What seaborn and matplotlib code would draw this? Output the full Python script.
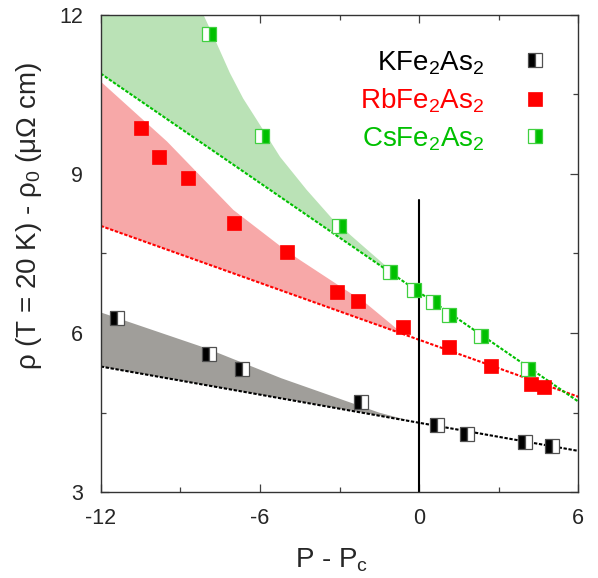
import numpy as np
import matplotlib
matplotlib.use('Agg')
import matplotlib.pyplot as plt
from matplotlib.lines import Line2D
import seaborn as sns

# ── Data ────────────────────────────────────────────────────────────────────
k_x = [-11.40, -7.91, -6.69, -2.20, 0.69, 1.80, 4.00, 5.00]
k_y = [6.29, 5.61, 5.33, 4.70, 4.27, 4.10, 3.95, 3.87]

rb_x = [-10.48, -9.80, -8.72, -6.99, -4.99, -3.10, -2.31, -0.60, 1.13, 2.70, 4.22, 4.71]
rb_y = [9.86, 9.32, 8.92, 8.08, 7.53, 6.78, 6.61, 6.12, 5.73, 5.38, 5.04, 4.99]

cs_x = [-7.91, -5.91, -3.01, -1.09, -0.19, 0.51, 1.12, 2.32, 4.12]
cs_y = [11.64, 9.71, 8.02, 7.15, 6.81, 6.59, 6.34, 5.94, 5.33]

# dotted linear fits (end points)
k_fit_x, k_fit_y = [-12, 6], [5.37, 3.78]
rb_fit_x, rb_fit_y = [-12, 6], [8.02, 4.80]
cs_fit_x, cs_fit_y = [-12, 6], [10.89, 4.71]

# shaded bands: upper edge, closed back along the fit line
k_band_x = [-12, -8.0, -5.2, -2.7, -1.5, -0.3, -12]
k_band_y = [6.39, 5.71, 5.15, 4.71, 4.50, 4.34, 5.37]
rb_band_x = [-12, -9.5, -7.0, -5.0, -4.5, -2.0, -0.6, -12]
rb_band_y = [10.74, 9.61, 8.32, 7.55, 7.38, 6.56, 5.98, 8.02]
cs_band_x = [-12, -8.13, -7.63, -7.13, -6.63, -6.12, -5.24, -4.24, -3.23, -2.23,
             -1.22, -0.9, -12]
cs_band_y = [12.0, 12.0, 11.46, 10.90, 10.42, 10.02, 9.32, 8.70, 8.13, 7.69,
             7.25, 7.08, 10.89]

labels = ['KFe$_2$As$_2$', 'RbFe$_2$As$_2$', 'CsFe$_2$As$_2$']

GREEN = '#00c000'
RED = '#ff0000'

sns.set_style('ticks')
plt.rcParams['font.family'] = ['Liberation Sans', 'DejaVu Sans']
plt.rcParams['mathtext.fontset'] = 'custom'
plt.rcParams['mathtext.rm'] = 'Liberation Sans'
plt.rcParams['mathtext.it'] = 'Liberation Sans'

fig = plt.figure(figsize=(5.98, 5.78), dpi=100)
ax = fig.add_axes([0.1684, 0.1483, 0.7987, 0.8263])

# bands
ax.fill(cs_band_x, cs_band_y, color='#bae2b6', lw=0, zorder=1)
ax.fill(rb_band_x, rb_band_y, color='#f7a8a8', lw=0, zorder=1)
ax.fill(k_band_x, k_band_y, color='#a09e9a', lw=0, zorder=1)

# fits
dots = (0, (1.6, 0.8))
sns.lineplot(x=k_fit_x, y=k_fit_y, ax=ax, color='black', lw=1.5, linestyle=dots, zorder=2)
sns.lineplot(x=rb_fit_x, y=rb_fit_y, ax=ax, color=RED, lw=1.5, linestyle=dots, zorder=2)
sns.lineplot(x=cs_fit_x, y=cs_fit_y, ax=ax, color=GREEN, lw=1.5, linestyle=dots, zorder=2)

# P = Pc marker line
ax.plot([0, 0], [3, 8.5], color='black', lw=1.5, zorder=2)

# data points
k_style = dict(marker='s', ms=10, ls='none', fillstyle='left', mfc='black',
               mfcalt='white', mec='#505050', mew=0.9)
rb_style = dict(marker='s', ms=10, ls='none', mfc=RED, mec=RED, mew=0.5)
cs_style = dict(marker='s', ms=10, ls='none', fillstyle='right', mfc=GREEN,
                mfcalt='white', mec='#40d040', mew=0.9)
ax.plot(k_x, k_y, zorder=3, **k_style)
ax.plot(rb_x, rb_y, zorder=3, **rb_style)
ax.plot(cs_x, cs_y, zorder=3, **cs_style)

ax.set_xlim(-12, 6)
ax.set_ylim(3, 12)
ax.set_xticks([-12, -6, 0, 6])
ax.set_xticklabels(['-12', '-6', '0', '6'])
ax.set_xticks([-9, -3, 3], minor=True)
ax.set_yticks([3, 6, 9, 12])
ax.set_yticks([4.5, 7.5, 10.5], minor=True)
ax.tick_params(which='both', direction='in', top=True, right=True,
               color='#404040', width=0.9, labelsize=15.5)
ax.tick_params(which='major', length=6)
ax.tick_params(which='minor', length=3.5)
ax.tick_params(axis='x', pad=11)
ax.tick_params(axis='y', pad=12.5)
for s in ax.spines.values():
    s.set_linewidth(1.0)
    s.set_color('#333333')

ax.set_xlabel('P - P$_c$', fontsize=20)
ax.set_ylabel('ρ (T = 20 K) - ρ$_0$ (μΩ cm)', fontsize=20)
ax.xaxis.set_label_coords(0.4837, -0.1145)
ax.yaxis.set_label_coords(-0.1187, 0.5775)

handles = [Line2D([], [], **k_style), Line2D([], [], **rb_style),
           Line2D([], [], **cs_style)]
ax.legend(handles, labels, loc='upper right', bbox_to_anchor=(0.9387, 0.928),
          frameon=False, markerfirst=False, handlelength=1.0, handletextpad=1.33,
          labelspacing=0.36, fontsize=20, borderpad=0, borderaxespad=0,
          labelcolor=['black', RED, GREEN])

fig.savefig('out.png', dpi=100)
